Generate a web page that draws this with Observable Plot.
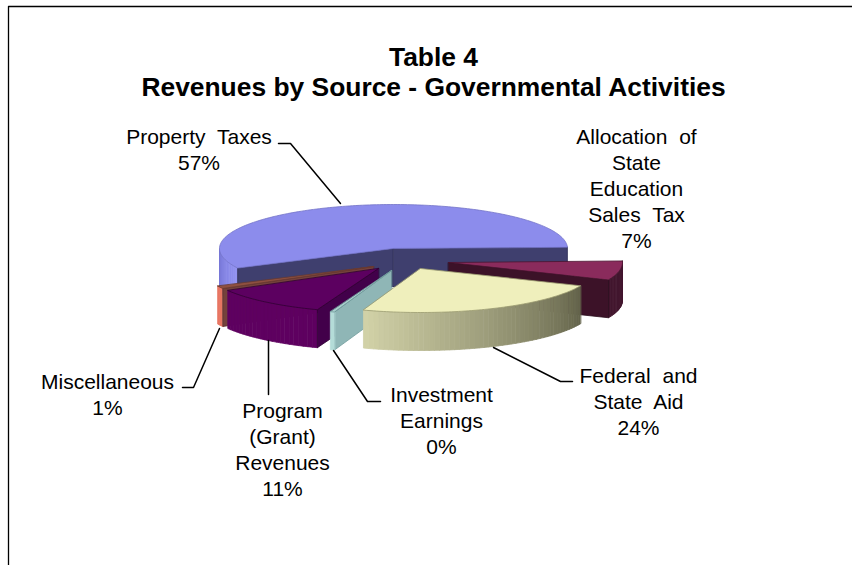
<!DOCTYPE html>
<html>
<head>
<meta charset="utf-8">
<script src="https://cdn.jsdelivr.net/npm/d3@7"></script>
<script src="https://cdn.jsdelivr.net/npm/@observablehq/plot@0.6"></script>
<style>
html,body{margin:0;padding:0;background:#fff}
svg{display:block}
g[aria-label="text"]{word-spacing:6px}
g[aria-label="text"][font-weight]{word-spacing:normal}
</style>
</head>
<body>
<div id="chart"></div>
<script>
// Data
const sources = ["Property Taxes", "Allocation of\nState\nEducation\nSales Tax", "Federal and\nState Aid", "Investment\nEarnings", "Program\n(Grant)\nRevenues", "Miscellaneous"];
const shares = [57, 7, 24, 0.4, 11, 1];
const titleLines = ["Table 4", "Revenues by Source - Governmental Activities"];

// Projection of the tilted pie
const W = 852, H = 565;
const cx = 393, cy = 248, rx = 174, ry = 44, depth = 38;
const startDeg = -116.4;
const explodeX = [0, 55, 27, -2, -15, -20];
const explodeY = [0, 14, 20, 22, 20, 18];

const arcs = d3.pie().sort(null).value(d => d)
  .startAngle(startDeg * Math.PI / 180)
  .endAngle((startDeg + 360) * Math.PI / 180)(shares);

const polys = [];
let pid = 0;
function add(points, fill, stroke) {
  const id = pid++;
  for (const [x, y] of points) polys.push({id, x, y, fill, stroke: stroke || fill});
}
function pt(i, a, dz = 0) { // a: clockwise radians from 12 o'clock
  return [cx + explodeX[i] + rx * Math.sin(a), cy + explodeY[i] - ry * Math.cos(a) + dz];
}
function apex(i, dz = 0) { return [cx + explodeX[i], cy + explodeY[i] + dz]; }
function arcPts(i, a0, a1, dz = 0) {
  const n = Math.max(2, Math.ceil(Math.abs(a1 - a0) / 0.02));
  return d3.range(n + 1).map(k => pt(i, a0 + (a1 - a0) * k / n, dz));
}
function topFace(i, fill, stroke) {
  const a = arcs[i];
  add([apex(i), ...arcPts(i, a.startAngle, a.endAngle)], fill, stroke);
}
function side(i, a0, a1, color) { // outer wall as shaded strips
  const n = Math.max(1, Math.ceil(Math.abs(a1 - a0) / 0.03));
  for (let k = 0; k < n; k++) {
    const s = a0 + (a1 - a0) * k / n, e = a0 + (a1 - a0) * (k + 1) / n;
    const c = color((k + .5) / n);
    add([pt(i, s), pt(i, e), pt(i, e, depth), pt(i, s, depth)], c, c);
  }
}
function face(i, a, fill, stroke) { // radial cut wall
  add([apex(i), pt(i, a), pt(i, a, depth), apex(i, depth)], fill, stroke);
}

// Property Taxes
const A = arcs;
side(0, A[0].startAngle, -Math.PI / 2, t => d3.interpolateRgb("#9494f2", "#7575d6")(t));
face(0, A[0].startAngle, "#3f3f6e", "#2c2c55");
face(0, A[0].endAngle, "#3f3f6e", "#2c2c55");
topFace(0, "#8c8cec", "#7474c8");
// Allocation
side(1, A[1].startAngle, A[1].endAngle, () => "#42162e");
face(1, A[1].endAngle, "#3c1228", "#2a0c1c");
topFace(1, "#8a2b5c", "#4a1430");
// Misc
side(5, A[5].startAngle, A[5].endAngle, () => "#e97663");
face(5, A[5].startAngle, "#74423c", "#5a302c");
topFace(5, "#8f5040", "#6a3a30");
// Program
side(4, A[4].startAngle, A[4].endAngle, () => "#5e0060");
face(4, A[4].startAngle, "#42004a", "#2e0034");
topFace(4, "#5c0060", "#300034");
// Investment
face(3, A[3].startAngle, "#8fb6b6", "#6f9a9a");
side(3, A[3].startAngle, A[3].endAngle, () => "#b4dcd8");
topFace(3, "#a8d0cc", "#6f9a9a");
// Federal
side(2, A[2].startAngle, A[2].endAngle, t => d3.interpolateRgb("#63634a", "#d2d2a8")(t));
topFace(2, "#efefbc", "#9a9a70");

// Label anchors and leader lines
const labelX = [198.5, 636, 638, 441, 282, 107];
const labelY = [148, 187, 400, 419, 448, 393];
const labels = sources.map((s, i) => ({
  text: `${s}\n${Math.round(shares[i])}%`, x: labelX[i], y: labelY[i]
}));
const leaderX = [[278, 290, 340], [], [493, 560, 572], [333, 367, 380], [268, 268], [219, 193, 182]];
const leaderY = [[143, 143, 203], [], [347, 381, 381], [350, 401, 401], [340, 394], [328, 387, 387]];
const leaders = leaderX.flatMap((xs, i) => xs.map((x, k) => ({i, x, y: leaderY[i][k]})));
const frameLine = [{x: 8, y: H}, {x: 8, y: 6}, {x: W, y: 6}];
const titles = titleLines.map((t, i) => ({t, y: 57 + i * 30}));

const plot = Plot.plot({
  width: W, height: H, margin: 0,
  x: {domain: [0, W], range: [0, W], axis: null},
  y: {domain: [0, H], range: [0, H], axis: null},
  marks: [
    Plot.line(frameLine, {x: "x", y: "y", stroke: "#000", strokeWidth: 1.3}),
    Plot.line(polys, {x: "x", y: "y", z: "id", fill: "fill", stroke: "stroke", strokeWidth: 0.8, curve: "linear-closed"}),
    Plot.line(leaders, {x: "x", y: "y", z: "i", stroke: "#000", strokeWidth: 1.5, curve: "linear"}),
    Plot.text(labels, {x: "x", y: "y", text: "text", textAnchor: "middle", lineAnchor: "middle", lineHeight: 1.24, fontSize: 21, fontFamily: "Liberation Sans", fill: "#000"}),
    Plot.text(titles, {x: () => 433, y: "y", text: "t", textAnchor: "middle", lineAnchor: "middle", fontSize: 26.4, fontWeight: "bold", fontFamily: "Liberation Sans", fill: "#000"})
  ]
});
const pieGroup = plot.querySelectorAll('g[aria-label="line"]')[1];
if (pieGroup) pieGroup.style.filter = "blur(.45px)";
document.getElementById("chart").append(plot);
</script>
</body>
</html>
